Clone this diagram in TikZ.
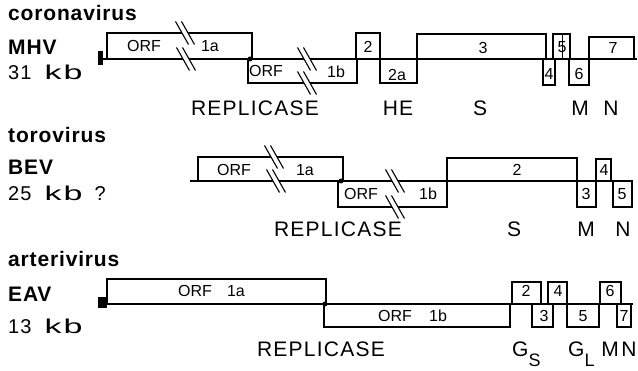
\documentclass[tikz,border=0pt]{standalone}
\usepackage{fontspec}
\setmainfont{Liberation Sans}
\newfontfamily\headfont[LetterSpace=4]{Liberation Sans}
\newfontfamily\genefont[LetterSpace=6]{Liberation Sans}
\newcommand{\wkb}{\scalebox{1.7}[1]{kb}}

\begin{document}
\begin{tikzpicture}
    [x=1pt, y=-1pt,
    orf/.style={draw, line width=1.2pt},
    brk/.style={line width=1.1pt},
    title/.style={anchor=base west, inner sep=0pt, font=\headfont\bfseries\fontsize{21}{24}\selectfont},
    size/.style={anchor=base west, inner sep=0pt, font=\genefont\fontsize{20}{22}\selectfont},
    gene/.style={anchor=base, inner sep=0pt, font=\genefont\fontsize{21}{22}\selectfont},
    num/.style={inner sep=0pt, font=\fontsize{16}{16}\selectfont},
    vertex/.style={inner sep=0pt, circle, fill=black, minimum size=5pt}]
        \useasboundingbox (0,0) rectangle (638,371);

        % coronavirus MHV
        \node[title] (cv) at (8,21) {coronavirus};
        \node[title] (mhv) at (8,55) {MHV};
        \node[size] (mhvkb) at (8,80) {31\hspace{13pt}\wkb};
        \draw[orf] (107,33) rectangle (252,59);
        \draw[orf] (248,59) rectangle (357,83);
        \draw[orf] (356,33) rectangle (380,59);
        \draw[orf] (380,59) rectangle (417,83);
        \draw[orf] (417,34) rectangle (546,59);
        \draw[orf] (543,59) rectangle (555,85);
        \draw[orf] (553,34) rectangle (570,59);
        \draw[orf] (569,59) rectangle (589,85);
        \draw[orf] (589,37) rectangle (634,59);
        \draw[line width=0.7pt] (562,35) -- (562,59);
        \draw[orf] (100,59) -- (637,59);
        \fill (98,51) rectangle (103,65);
        \node[num] (m1) at (144,46) {ORF};
        \node[num] (m1a) at (210,46) {1a};
        \node[num] (m2) at (266,71) {ORF};
        \node[num] (m1b) at (336,72) {1b};
        \node[num] (m2x) at (368,47) {2};
        \node[num] (m2a) at (397,75) {2a};
        \node[num] (m3) at (483,48) {3};
        \node[num] (m4) at (549,74) {4};
        \node[num] (m5) at (562,47) {5};
        \node[num] (m6) at (579,74) {6};
        \node[num] (m7) at (613,48) {7};
        \node[gene] (mrep) at (255,116) {REPLICASE};
        \node[gene] (mhe) at (398,116) {HE};
        \node[gene] (ms) at (480,116) {S};
        \node[gene] (mm) at (580,116) {M};
        \node[gene] (mn) at (611,116) {N};

        % torovirus BEV
        \node[title] (tv) at (8,143) {torovirus};
        \node[title] (bev) at (8,175) {BEV};
        \node[size] (bevkb) at (8,201) {25\hspace{13pt}\wkb\hspace{12pt}?};
        \draw[orf] (198,157) rectangle (343,181);
        \draw[orf] (338,181) rectangle (447,207);
        \draw[orf] (447,158) rectangle (577,181);
        \draw[orf] (577,181) rectangle (596,207);
        \draw[orf] (596,159) rectangle (611,181);
        \draw[orf] (613,181) rectangle (632,207);
        \draw[orf] (190,181) -- (633,181);
        \node[num] (b1) at (234,170) {ORF};
        \node[num] (b1a) at (305,170) {1a};
        \node[num] (b2) at (361,194) {ORF};
        \node[num] (b1b) at (428,194) {1b};
        \node[num] (b2x) at (517,170) {2};
        \node[num] (b3) at (586,194) {3};
        \node[num] (b4) at (604,170) {4};
        \node[num] (b5) at (622,194) {5};
        \node[gene] (brep) at (338,237) {REPLICASE};
        \node[gene] (bs) at (514,237) {S};
        \node[gene] (bm) at (586,237) {M};
        \node[gene] (bn) at (623,237) {N};

        % arterivirus EAV
        \node[title] (av) at (8,267) {arterivirus};
        \node[title] (eav) at (8,302) {EAV};
        \node[size] (eavkb) at (8,334) {13\hspace{13pt}\wkb};
        \draw[orf] (107,279) rectangle (326,304);
        \draw[orf] (324,304) rectangle (510,327);
        \draw[orf] (512,282) rectangle (541,304);
        \draw[orf] (532,304) rectangle (553,327);
        \draw[orf] (548,282) rectangle (567,304);
        \draw[orf] (567,304) rectangle (599,327);
        \draw[orf] (600,282) rectangle (621,304);
        \draw[orf] (617,304) rectangle (631,327);
        \draw[orf] (100,304) -- (633,304);
        \fill (98,297) rectangle (107,308);
        \node[num] (e1) at (195,291) {ORF};
        \node[num] (e1a) at (236,291) {1a};
        \node[num] (e2) at (395,316) {ORF};
        \node[num] (e1b) at (438,316) {1b};
        \node[num] (e2x) at (526,291) {2};
        \node[num] (e3) at (544,316) {3};
        \node[num] (e4) at (558,291) {4};
        \node[num] (e5) at (583,316) {5};
        \node[num] (e6) at (610,291) {6};
        \node[num] (e7) at (624,316) {7};
        \node[gene] (erep) at (321,357) {REPLICASE};
        \node[gene, anchor=base west] (egs) at (512,357) {G\raisebox{-10pt}{\fontsize{18}{18}\selectfont S}};
        \node[gene, anchor=base west] (egl) at (568,357) {G\raisebox{-10pt}{\fontsize{18}{18}\selectfont L}};
        \node[gene] (em) at (610,357) {M};
        \node[gene] (en) at (629,357) {N};

        % breaks in the long ORFs
        \foreach \cx/\e in {185/33, 186/59, 307/59, 307/83, 274/157, 276/181, 395/181, 395/207} {
            \fill[white] (\cx-9.5,\e-11.5) -- (\cx+3.5,\e+11.5) -- (\cx+9.5,\e+11.5) -- (\cx-3.5,\e-11.5) -- cycle;
            \draw[brk] (\cx-9.5,\e-11.5) -- ++(13,23);
            \draw[brk] (\cx-3.5,\e-11.5) -- ++(13,23);
        }

        % junctions of ORF 1a and 1b
        \node[vertex] (mj) at (250,59) {};
        \node[vertex] (bj) at (341,181) {};
        \node[vertex] (ej) at (325,304) {};
   \end{tikzpicture}
\end{document}
